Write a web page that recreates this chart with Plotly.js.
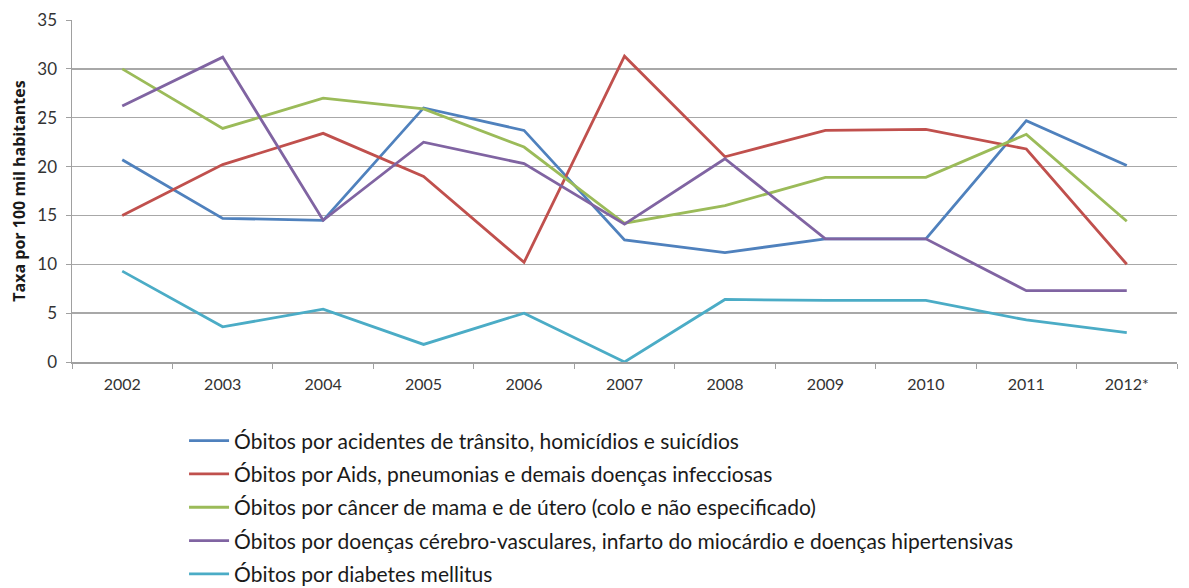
<!DOCTYPE html>
<html>
<head>
<meta charset="utf-8">
<script src="https://cdn.plot.ly/plotly-3.0.1.min.js"></script>
<style>
  html, body { margin: 0; padding: 0; background: #ffffff; }
  #chart { width: 1189px; height: 588px; }
</style>
</head>
<body>
<div id="chart"></div>
<script>
// Mortality rates per 100 thousand inhabitants, 2002–2012
const years = ['2002', '2003', '2004', '2005', '2006', '2007', '2008', '2009', '2010', '2011', '2012*'];

const transito   = [20.7, 14.7, 14.5, 26.0, 23.7, 12.5, 11.2, 12.6, 12.6, 24.7, 20.1];
const infeccao   = [15.0, 20.2, 23.4, 19.0, 10.2, 31.3, 21.0, 23.7, 23.8, 21.8, 10.0];
const cancer     = [30.0, 23.9, 27.0, 25.9, 22.0, 14.2, 16.0, 18.9, 18.9, 23.3, 14.4];
const vascular   = [26.2, 31.2, 14.5, 22.5, 20.3, 14.1, 20.8, 12.6, 12.6, 7.3, 7.3];
const diabetes   = [9.3, 3.6, 5.4, 1.8, 5.0, 0.0, 6.4, 6.3, 6.3, 4.3, 3.0];

const seriesNames = [
  'Óbitos por acidentes de trânsito, homicídios e suicídios',
  'Óbitos por Aids, pneumonias e demais doenças infecciosas',
  'Óbitos por câncer de mama e de útero (colo e não especificado)',
  'Óbitos por doenças cérebro-vasculares, infarto do miocárdio e doenças hipertensivas',
  'Óbitos por diabetes mellitus'
];
const seriesValues = [transito, infeccao, cancer, vascular, diabetes];
const seriesColors = ['#4F81BD', '#C0504D', '#9BBB59', '#8064A2', '#4BACC6'];

const traces = seriesValues.map((vals, i) => ({
  type: 'scatter',
  mode: 'lines',
  x: years,
  y: vals,
  name: seriesNames[i],
  legendgroup: 'g' + i,
  line: { color: seriesColors[i], width: 2.8 },
  hoverinfo: 'x+y'
}));

const layout = {
  width: 1189,
  height: 588,
  margin: { l: 72, r: 12, t: 20, b: 226, autoexpand: false },
  paper_bgcolor: '#ffffff',
  plot_bgcolor: '#ffffff',
  font: { family: 'Lato, "Open Sans", sans-serif', color: '#333333' },
  showlegend: true,
  legend: {
    x: 0.1014,
    xanchor: 'left',
    y: -0.171,
    yanchor: 'top',
    orientation: 'v',
    font: { size: 21, color: '#1a1a1a', family: 'Lato, "Open Sans", sans-serif' },
    tracegroupgap: 3,
    itemwidth: 40,
    bgcolor: 'rgba(0,0,0,0)'
  },
  xaxis: {
    type: 'category',
    range: [-0.5, 10.5],
    showgrid: false,
    zeroline: false,
    showline: true,
    linecolor: '#a0a0a0',
    linewidth: 1.5,
    ticks: 'outside',
    tickson: 'boundaries',
    ticklen: 5,
    tickcolor: '#a0a0a0',
    ticklabelstandoff: 7,
    tickfont: { size: 16, color: '#333333' },
    fixedrange: true
  },
  yaxis: {
    range: [0, 35],
    dtick: 5,
    showgrid: true,
    gridcolor: '#a8a8a8',
    gridwidth: 1.5,
    zeroline: false,
    showline: true,
    linecolor: '#a0a0a0',
    linewidth: 1.5,
    ticks: 'outside',
    ticklen: 5,
    tickcolor: '#a0a0a0',
    ticklabelstandoff: 5,
    tickfont: { size: 17, color: '#333333' },
    title: {
      text: '<b>Taxa por 100 mil habitantes</b>',
      font: { size: 16, color: '#1a1a1a', family: '"Open Sans", Lato, sans-serif' },
      standoff: 8
    },
    fixedrange: true
  }
};

Plotly.newPlot('chart', traces, layout, { displayModeBar: false, staticPlot: true });
</script>
</body>
</html>
